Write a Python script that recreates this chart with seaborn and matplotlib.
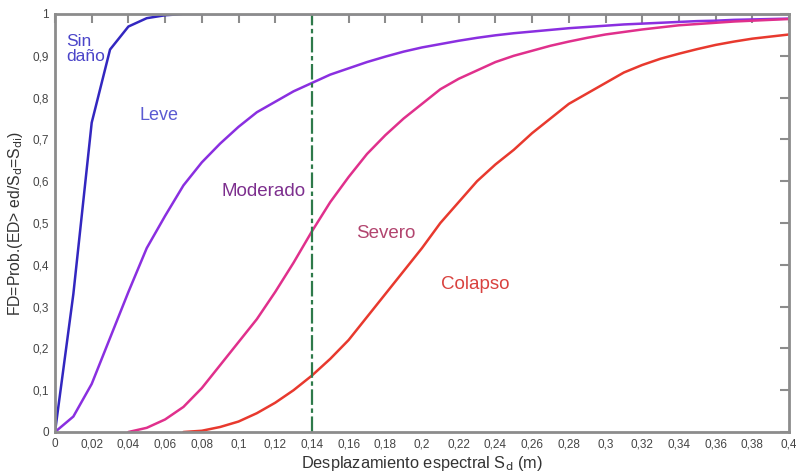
import numpy as np
import pandas as pd
import matplotlib
matplotlib.use("Agg")
import matplotlib.pyplot as plt
import seaborn as sns

sd = [round(i * 0.01, 2) for i in range(41)]

sin_dano = [0, 0.33, 0.74, 0.915, 0.97, 0.99, 0.997, 1.0, 1.0, 1.0,
            1.0, 1.0, 1.0, 1.0, 1.0, 1.0, 1.0, 1.0, 1.0, 1.0,
            1.0, 1.0, 1.0, 1.0, 1.0, 1.0, 1.0, 1.0, 1.0, 1.0,
            1.0, 1.0, 1.0, 1.0, 1.0, 1.0, 1.0, 1.0, 1.0, 1.0, 1.0]
leve = [0, 0.037, 0.115, 0.225, 0.335, 0.44, 0.517, 0.59, 0.645, 0.69,
        0.73, 0.765, 0.79, 0.815, 0.835, 0.855, 0.87, 0.885, 0.898, 0.91,
        0.92, 0.928, 0.936, 0.943, 0.949, 0.954, 0.958, 0.962, 0.966, 0.969,
        0.972, 0.975, 0.977, 0.979, 0.981, 0.983, 0.984, 0.986, 0.987, 0.988, 0.989]
severo = [None, None, None, None, 0.0, 0.01, 0.03, 0.06, 0.105, 0.16,
          0.215, 0.27, 0.335, 0.405, 0.48, 0.55, 0.61, 0.665, 0.71, 0.75,
          0.785, 0.82, 0.845, 0.865, 0.885, 0.90, 0.912, 0.924, 0.934, 0.943,
          0.951, 0.957, 0.963, 0.968, 0.973, 0.976, 0.979, 0.982, 0.984, 0.986, 0.988]
colapso = [None, None, None, None, None, None, None, 0.0, 0.003, 0.012,
           0.025, 0.045, 0.07, 0.10, 0.135, 0.175, 0.22, 0.275, 0.33, 0.385,
           0.44, 0.50, 0.55, 0.60, 0.64, 0.675, 0.715, 0.75, 0.785, 0.81,
           0.835, 0.86, 0.878, 0.893, 0.905, 0.916, 0.926, 0.934, 0.941, 0.946, 0.951]

series_names = ["Sin daño", "Leve", "Severo", "Colapso"]
series_vals = [sin_dano, leve, severo, colapso]
line_colors = ["#3327c0", "#8a2fe0", "#e0308c", "#e8392e"]

umbral_sd = 0.14

xticks = [round(i * 0.02, 2) for i in range(21)]
yticks = [round(i * 0.1, 1) for i in range(11)]

def fmt(v):
    return ("%g" % v).replace(".", ",")

labels_txt = ["Sin\ndaño", "Leve", "Moderado", "Severo", "Colapso"]
labels_xy = [(0.0062, 0.916), (0.0462, 0.758), (0.0905, 0.576), (0.1642, 0.474), (0.2105, 0.352)]
labels_col = ["#4b45c9", "#5b5bd2", "#7d2f8e", "#b2456f", "#d9423f"]
labels_size = [12.5, 13, 13.5, 13.5, 13.5]

sns.set_style("white")
plt.rcParams["font.family"] = ["Liberation Sans", "DejaVu Sans"]

fig = plt.figure(figsize=(7.96, 4.76), dpi=100)
ax = fig.add_axes([55 / 796, 44 / 476, 734 / 796, 418 / 476])

df = pd.DataFrame({
    "Sd": sd * len(series_names),
    "FD": pd.array(sum(series_vals, []), dtype="Float64").astype(float),
    "estado": sum([[n] * len(sd) for n in series_names], []),
})
df = df.dropna()
sns.lineplot(data=df, x="Sd", y="FD", hue="estado", palette=dict(zip(series_names, line_colors)),
             linewidth=1.8, legend=False, ax=ax, sort=False)

ax.axvline(umbral_sd, color="#2e7a4a", linewidth=1.6, linestyle=(0, (7, 1.6, 2, 1.6)))

for t, (x, y), c, s in zip(labels_txt, labels_xy, labels_col, labels_size):
    ax.text(x, y, t, color=c, fontsize=s, ha="left", va="center", linespacing=1.0)

ax.set_xlim(0, 0.4)
ax.set_ylim(0, 1)
ax.set_xticks(xticks)
ax.set_xticklabels([fmt(v) for v in xticks])
ax.set_yticks(yticks)
ax.set_yticklabels([fmt(v) for v in yticks])
ax.tick_params(direction="in", length=6.5, width=1.5, color="#8c8c8c", top=True, right=True,
               labelsize=8.5, labelcolor="#454545", pad=4.5)
ax.tick_params(axis="x", labeltop=False)
ax.tick_params(axis="y", labelright=False)
for sp in ax.spines.values():
    sp.set_color("#8c8c8c")
    sp.set_linewidth(2)
    sp.set_zorder(3)

ax.set_xlabel("Desplazamiento espectral S$_{\\rm d}$ (m)", fontsize=11.8, color="#333333", labelpad=3)
ax.set_ylabel("FD=Prob.(ED> ed/S$_{\\rm d}$=S$_{\\rm di}$)", fontsize=11.3, color="#333333", labelpad=5)

fig.savefig("out.png", dpi=100)
